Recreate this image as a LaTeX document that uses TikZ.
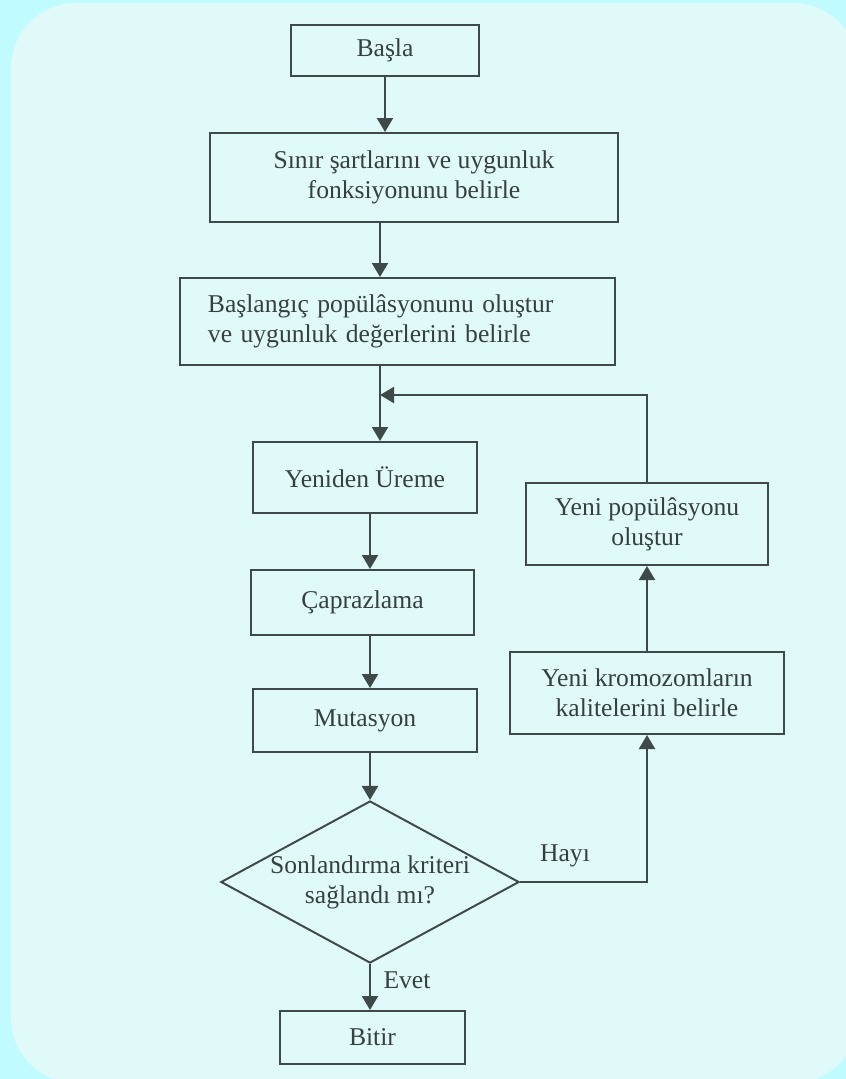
\documentclass[tikz,border=0pt]{standalone}
\usepackage{fontspec}
\setmainfont{Liberation Serif}
\usetikzlibrary{shapes.geometric,arrows.meta}
\definecolor{outerbg}{HTML}{C0FCFF}
\definecolor{panelbg}{HTML}{E0F9F9}
\definecolor{linec}{HTML}{3E4A4A}
\definecolor{textc}{HTML}{364040}

\begin{document}
\begin{tikzpicture}[x=0.025cm,y=-0.025cm,
    font=\fontsize{18.2}{21.5}\selectfont, text=textc,
    flowbox/.style={draw=linec, line width=1.4pt, align=center, inner sep=2pt},
    decide/.style={draw=linec, line width=1.4pt, diamond, aspect=1.84, inner sep=0pt, align=center},
    arr/.style={draw=linec, line width=1.4pt, -{Triangle[width=0.4cm,length=0.35cm]}}]
    % background panel
    \useasboundingbox (0,0) rectangle (846,1079);
    \fill[outerbg] (0,0) rectangle (846,1079);
    \begin{scope}
        \clip (0,0) rectangle (846,1079);
        \fill[panelbg, rounded corners=1.625cm] (11,3) rectangle (858,1083);
    \end{scope}

    % main column
    \node[flowbox, minimum width=4.7cm, minimum height=1.275cm] (start) at (385,50.5) {Başla};
    \node[flowbox, minimum width=10.2cm, minimum height=2.225cm] (limits) at (414,177.5)
        {Sınır şartlarını ve uygunluk\\fonksiyonunu belirle};
    \node[flowbox, align=left, text width=9.475cm, inner xsep=0.7cm, minimum height=2.175cm] (init) at (397.5,321.5)
        {Başlangıç popülâsyonunu oluştur\\ve uygunluk değerlerini belirle};
    \node[flowbox, minimum width=5.6cm, minimum height=1.775cm] (repro) at (365,477.5) {Yeniden Üreme};
    \node[flowbox, minimum width=5.575cm, minimum height=1.625cm] (cross) at (362.5,602.5) {Çaprazlama};
    \node[flowbox, minimum width=5.6cm, minimum height=1.575cm] (mut) at (365,720.5) {Mutasyon};
    \node[decide] (check) at (370,882) {Sonlandırma kriteri\\sağlandı mı?};
    \node[flowbox, minimum width=4.625cm, minimum height=1.325cm] (finish) at (372.5,1037.5) {Bitir};

    % right column
    \node[flowbox, minimum width=6.05cm, minimum height=2.05cm] (newpop) at (647,524)
        {Yeni popülâsyonu\\oluştur};
    \node[flowbox, minimum width=6.85cm, minimum height=2.05cm] (evalnew) at (647,693)
        {Yeni kromozomların\\kalitelerini belirle};

    % labels
    \node (no) at (565,856) {Hayı};
    \node (yes) at (407,980) {Evet};

    % connectors
    \coordinate (spine) at (380,395);
    \draw[arr] (start.south) -- (start.south |- limits.north);
    \draw[arr] (limits.south -| spine) -- (init.north -| spine);
    \draw[arr] (init.south -| spine) -- (repro.north -| spine);
    \draw[arr] (newpop.north) |- (spine);
    \draw[arr] (repro.south -| check.north) -- (cross.north -| check.north);
    \draw[arr] (cross.south -| check.north) -- (mut.north -| check.north);
    \draw[arr] (mut.south -| check.north) -- (check.north);
    \draw[arr] (check.south) -- (check.south |- finish.north);
    \draw[arr] (check.east) -| (evalnew.south);
    \draw[arr] (evalnew.north) -- (newpop.south);
\end{tikzpicture}
\end{document}
